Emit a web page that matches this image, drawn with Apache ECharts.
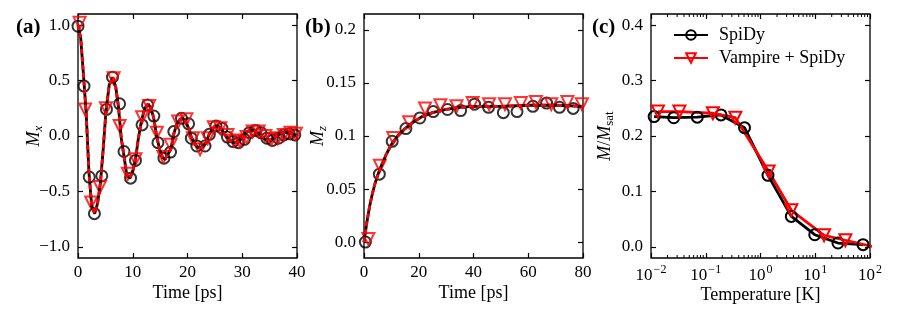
<!DOCTYPE html>
<html><head><meta charset="utf-8">
<script src="https://cdn.jsdelivr.net/npm/echarts@6/dist/echarts.min.js"></script>
<style>html,body{margin:0;padding:0;background:#fff}#c{width:898px;height:317px}</style>
</head><body><div id="c"></div>
<script>
// ---------- Panel (a): M_x vs time ----------
const curveTimeA = [0,0.5,1,1.5,2,2.5,3.05,3.6,4.1,4.6,5.1,5.7,6.35,6.9,7.4,7.9,8.4,8.9,9.5,10,10.5,11,11.6,12.2,12.8,13.3,13.8,14.4,14.9,15.4,15.9,16.5,17,17.5,18,18.6,19.1,19.7,20.2,20.7,21.2,21.8,22.3,22.9,23.4,23.9,24.5,25,25.5,26.1,26.6,27.2,27.7,28.3,28.8,29.4,29.9,30.5,31,31.5,32,32.6,33.1,33.7,34.2,34.7,35.2,35.8,36.3,36.9,37.4,38,38.5,39.1,39.6,40];
const mxCurve = [1.00,0.88,0.55,0.20,-0.33,-0.63,-0.70,-0.60,-0.42,-0.12,0.22,0.46,0.53,0.44,0.26,-0.02,-0.18,-0.35,-0.38,-0.32,-0.21,-0.03,0.14,0.25,0.29,0.25,0.17,-0.01,-0.12,-0.19,-0.21,-0.16,-0.11,0.02,0.10,0.15,0.16,0.13,0.07,-0.01,-0.06,-0.10,-0.11,-0.09,-0.06,0.01,0.06,0.09,0.09,0.07,0.03,-0.01,-0.04,-0.06,-0.06,-0.05,-0.02,0.02,0.04,0.05,0.05,0.04,0.02,-0.01,-0.03,-0.035,-0.035,-0.02,0.00,0.02,0.03,0.03,0.03,0.02,0.01,0.00];
const circTimeA = [0,1.1,2.05,3.0,4.35,5.2,6.3,7.6,8.4,9.6,10.5,11.7,12.7,13.85,14.6,15.7,16.9,17.5,18.9,20.2,20.7,21.7,23.2,24.0,25.2,26.3,27.3,28.3,29.3,30.4,31.3,32.4,33.4,34.5,35.5,36.6,37.6,38.6,39.6];
const circMxA = [0.99,0.45,-0.37,-0.70,-0.36,0.24,0.53,0.29,-0.14,-0.38,-0.22,0.10,0.28,0.18,-0.06,-0.20,-0.145,0.04,0.16,0.11,-0.02,-0.09,-0.09,0.015,0.09,0.07,-0.01,-0.05,-0.06,-0.03,0.03,0.05,0.03,-0.02,-0.04,-0.02,0.01,0.02,0.01];
const triTimeA = [0.3,1.3,2.4,4.0,5.1,6.5,7.6,9.1,10.5,11.7,13.0,14.4,15.6,16.9,18.3,19.8,21.0,22.3,23.7,24.8,26.0,27.3,28.5,29.6,30.8,31.9,33.0,34.2,35.3,36.5,37.6,38.8,39.8];
const triMxA = [1.02,0.24,-0.60,-0.46,0.25,0.52,0.09,-0.34,-0.21,0.17,0.27,0.03,-0.19,-0.08,0.13,0.15,-0.02,-0.12,-0.02,0.08,0.07,0.01,-0.04,-0.05,-0.01,0.04,0.04,0.0,-0.03,-0.02,0.01,0.03,0.02];
const xTicksA = [0,10,20,30,40];
const xLabelsA = ['0','10','20','30','40'];
const yTicksA = [-1,-0.5,0,0.5,1];
const yLabelsA = ['\u22121.0','\u22120.5','0.0','0.5','1.0'];

// ---------- Panel (b): M_z vs time ----------
const curveTimeB = [0,1,2,3,4,5,6,8,10,12,15,18,21,25,30,35,40,50,60,70,80];
const mzCurve = [0,0.018,0.033,0.045,0.055,0.063,0.070,0.082,0.092,0.099,0.107,0.113,0.118,0.122,0.125,0.127,0.128,0.128,0.129,0.129,0.128];
const circTimeB = [0.5,5.6,10.3,15.3,20.4,25.3,30.5,35.3,40.4,45.5,50.9,55.9,61.7,66.7,71.4,76.4];
const circMzB = [0.0,0.064,0.095,0.107,0.117,0.123,0.125,0.124,0.130,0.127,0.122,0.123,0.128,0.131,0.127,0.126];
const triTimeB = [1.6,5.8,10.7,16.5,22.3,27.9,33.8,39.7,45.7,51.5,57.3,62.8,68.4,74.3,79.6];
const triMzB = [0.003,0.072,0.098,0.113,0.126,0.129,0.128,0.131,0.130,0.130,0.131,0.132,0.130,0.132,0.130];
const xTicksB = [0,20,40,60,80];
const xLabelsB = ['0','20','40','60','80'];
const yTicksB = [0,0.05,0.1,0.15,0.2];
const yLabelsB = ['0.0','0.05','0.1','0.15','0.2'];

// ---------- Panel (c): M/Msat vs temperature ----------
const tempSpiDy = [0.0114,0.026,0.070,0.19,0.51,1.37,3.66,9.8,26,74.5];
const magSpiDy = [0.235,0.233,0.234,0.238,0.215,0.129,0.055,0.022,0.007,0.004];
const tempVamp = [0.0134,0.033,0.135,0.347,1.41,3.66,14.5,35.5,120];
const magVamp = [0.244,0.244,0.241,0.233,0.136,0.066,0.021,0.012,0.0];
const xTicksC = [0.01,0.1,1,10,100];
const xExpC = ['\u22122','\u22121','0','1','2'];
const minorTicksC = [0.02,0.03,0.04,0.05,0.06,0.07,0.08,0.09,0.2,0.3,0.4,0.5,0.6,0.7,0.8,0.9,2,3,4,5,6,7,8,9,20,30,40,50,60,70,80,90];
const yTicksC = [0,0.1,0.2,0.3,0.4];
const yLabelsC = ['0.0','0.1','0.2','0.3','0.4'];
const legendNames = ['SpiDy','Vampire + SpiDy'];

// axis ranges
const xRangeA = [0,40], yRangeA = [-1.1,1.1];
const xRangeB = [0,80], yRangeB = [-0.015,0.215];
const xRangeC = [0.01,100], yRangeC = [-0.02,0.42];

const F = 'Liberation Serif';
const TFS = 17, NFS = 18;
const zip = (a,b) => a.map((v,i)=>[v,b[i]]);
const findIdx = (ticks, v) => ticks.findIndex(t => Math.abs(t - v) <= 1e-9 * Math.max(1, Math.abs(t)));

const RICH = {
  n: {fontFamily:F, fontSize:TFS, color:'#000', verticalAlign:'bottom'},
  sup: {fontFamily:F, fontSize:12, color:'#000', verticalAlign:'bottom', padding:[0,0,8,1]},
  i: {fontFamily:F, fontSize:NFS, fontStyle:'italic', color:'#000', verticalAlign:'top'},
  r: {fontFamily:F, fontSize:NFS, color:'#000', verticalAlign:'top'},
  si: {fontFamily:F, fontSize:13, fontStyle:'italic', color:'#000', verticalAlign:'top', padding:[7,0,0,0]},
  sr: {fontFamily:F, fontSize:13, color:'#000', verticalAlign:'top', padding:[7,0,0,0]}
};

const tickStyle = {color:'#000', width:1.2};
function xAxes(gi, type, range, ticks, fmt, name, gap) {
  const common = {gridIndex:gi, type, min:range[0], max:range[1], splitLine:{show:false},
    axisLine:{show:false, onZero:false},
    axisTick:{show:true, inside:true, length:5, lineStyle:tickStyle, customValues:ticks}};
  return [
    Object.assign({}, common, {position:'bottom', name, nameLocation:'middle', nameGap:gap, nameMoveOverlap:false,
      nameTextStyle:{fontFamily:F, fontSize:NFS, color:'#000'},
      axisLabel:{show:true, customValues:ticks, formatter:fmt, margin:6, fontFamily:F, fontSize:TFS, color:'#000', rich:RICH}}),
    Object.assign({}, common, {position:'top', axisLabel:{show:false}})
  ];
}
function yAxes(gi, range, ticks, labels, name, gap) {
  const common = {gridIndex:gi, type:'value', min:range[0], max:range[1], splitLine:{show:false},
    axisLine:{show:false, onZero:false},
    axisTick:{show:true, inside:true, length:5, lineStyle:tickStyle, customValues:ticks}};
  return [
    Object.assign({}, common, {position:'left', name, nameLocation:'middle', nameGap:gap, nameRotate:90, nameMoveOverlap:false,
      nameTextStyle:{fontFamily:F, fontSize:NFS, color:'#000', rich:RICH},
      axisLabel:{show:true, customValues:ticks, formatter:(v)=>{const k=findIdx(ticks,v); return k>=0?labels[k]:'';}, margin:8, fontFamily:F, fontSize:TFS, color:'#000'}}),
    Object.assign({}, common, {position:'right', axisLabel:{show:false}})
  ];
}
const plainFmt = (ticks, labels) => (v) => { const k = findIdx(ticks, v); return k >= 0 ? labels[k] : ''; };
const expFmt = (v) => { const k = findIdx(xTicksC, v); return k >= 0 ? '{n|10}{sup|' + xExpC[k] + '}' : ''; };

const gridBase = {top:14, height:244, width:219, show:true, borderColor:'#000', borderWidth:1.3, backgroundColor:'transparent'};

const circleStyle = {color:'rgba(0,0,0,0)', borderColor:'#000', borderWidth:2};
const triStyle = {color:'rgba(0,0,0,0)', borderColor:'#ff0000', borderWidth:2};

function panelSeries(xi, curveX, curveY, cx, cy, tx, ty) {
  return [
    {type:'line', xAxisIndex:xi, yAxisIndex:xi, data:zip(curveX,curveY), showSymbol:false, symbol:'none',
      lineStyle:{color:'#000', width:2.8}, silent:true},
    {type:'scatter', xAxisIndex:xi, yAxisIndex:xi, data:zip(cx,cy), symbol:'circle', symbolSize:11, itemStyle:circleStyle, silent:true},
    {type:'line', xAxisIndex:xi, yAxisIndex:xi, data:zip(curveX,curveY), showSymbol:false, symbol:'none',
      lineStyle:{color:'#ff0000', width:2.8, type:[5,3]}, silent:true},
    {type:'scatter', xAxisIndex:xi, yAxisIndex:xi, data:zip(tx,ty), symbol:'triangle', symbolRotate:180, symbolSize:12, itemStyle:triStyle, silent:true}
  ];
}

const option = {
  animation:false,
  backgroundColor:'#fff',
  grid:[
    Object.assign({left:78}, gridBase),
    Object.assign({left:364}, gridBase),
    Object.assign({left:651}, gridBase)
  ],
  xAxis:[].concat(
    xAxes(0,'value',xRangeA,xTicksA,plainFmt(xTicksA,xLabelsA),'Time [ps]',26),
    xAxes(1,'value',xRangeB,xTicksB,plainFmt(xTicksB,xLabelsB),'Time [ps]',26),
    xAxes(2,'log',xRangeC,xTicksC,expFmt,'Temperature [K]',28)
  ),
  yAxis:[].concat(
    yAxes(0,yRangeA,yTicksA,yLabelsA,'{i|M}{si|x}',33),
    yAxes(1,yRangeB,yTicksB,yLabelsB,'{i|M}{si|z}',35),
    yAxes(2,yRangeC,yTicksC,yLabelsC,'{i|M}{r|/}{i|M}{sr|sat}',35)
  ),
  legend:{
    data:legendNames, orient:'vertical', left:673, top:26, padding:0, itemWidth:34, itemHeight:12, itemGap:5,
    textStyle:{fontFamily:F, fontSize:NFS, color:'#000', padding:[0,0,0,6]}
  },
  graphic:[
    {type:'text', left:16, top:17, style:{text:'(a)', font:'bold 21px "Liberation Serif"', fill:'#000'}},
    {type:'text', left:305, top:17, style:{text:'(b)', font:'bold 21px "Liberation Serif"', fill:'#000'}},
    {type:'text', left:592, top:17, style:{text:'(c)', font:'bold 21px "Liberation Serif"', fill:'#000'}}
  ],
  series:[].concat(
    panelSeries(0, curveTimeA, mxCurve, circTimeA, circMxA, triTimeA, triMxA),
    panelSeries(2, curveTimeB, mzCurve, circTimeB, circMzB, triTimeB, triMzB),
    [
      {name:legendNames[0], type:'line', xAxisIndex:4, yAxisIndex:4, data:zip(tempSpiDy,magSpiDy),
        symbol:'circle', symbolSize:11, showSymbol:true, color:'#000',
        lineStyle:{color:'#000', width:2.8}, itemStyle:circleStyle, silent:true},
      {name:legendNames[1], type:'line', xAxisIndex:4, yAxisIndex:4, data:zip(tempVamp,magVamp),
        symbol:'triangle', symbolRotate:180, symbolSize:12, showSymbol:true, color:'#ff0000',
        lineStyle:{color:'#ff0000', width:2.8}, itemStyle:triStyle, silent:true, clip:true},
      {type:'custom', xAxisIndex:4, yAxisIndex:4, silent:true, clip:false,
        data:minorTicksC.map(v=>[v, yRangeC[0]]),
        renderItem:(params, api) => {
          const b = api.coord([api.value(0), yRangeC[0]]);
          const t = api.coord([api.value(0), yRangeC[1]]);
          return {type:'group', children:[
            {type:'line', shape:{x1:b[0], y1:b[1], x2:b[0], y2:b[1]-3}, style:{stroke:'#000', lineWidth:1}},
            {type:'line', shape:{x1:t[0], y1:t[1], x2:t[0], y2:t[1]+3}, style:{stroke:'#000', lineWidth:1}}
          ]};
        }}
    ]
  )
};
const chart = echarts.init(document.getElementById('c'), null, {renderer:'canvas'});
chart.setOption(option);
</script></body></html>
